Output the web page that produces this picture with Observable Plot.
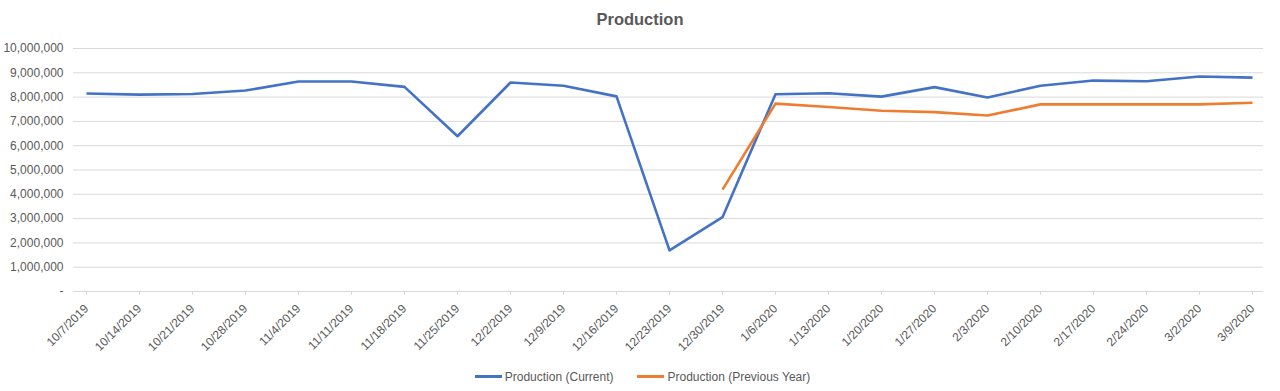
<!DOCTYPE html>
<html>
<head>
<meta charset="utf-8">
<script src="https://cdn.jsdelivr.net/npm/d3@7"></script>
<script src="https://cdn.jsdelivr.net/npm/@observablehq/plot@0.6"></script>
<style>
  html, body { margin: 0; padding: 0; background: #fff; }
  body { width: 1280px; height: 391px; overflow: hidden; font-family: "Liberation Sans", Arial, sans-serif; }
  #title { height: 38px; line-height: 38px; text-align: center; font-size: 16.5px; font-weight: bold; color: #595959; }
  #legend { height: 29px; display: flex; justify-content: center; align-items: center; gap: 24px; font-size: 12px; color: #595959; margin-left: 5px; }
  .item { display: flex; align-items: center; }
  .sw { width: 27px; height: 3px; margin-right: 3px; }
  svg { display: block; }
</style>
</head>
<body>
<div id="title">Production</div>
<div id="chart"></div>
<div id="legend"></div>
<script>
const dates = ["10/7/2019","10/14/2019","10/21/2019","10/28/2019","11/4/2019","11/11/2019","11/18/2019","11/25/2019","12/2/2019","12/9/2019","12/16/2019","12/23/2019","12/30/2019","1/6/2020","1/13/2020","1/20/2020","1/27/2020","2/3/2020","2/10/2020","2/17/2020","2/24/2020","3/2/2020","3/9/2020"];
const current = [8150000,8100000,8130000,8270000,8640000,8640000,8420000,6390000,8600000,8470000,8030000,1690000,3060000,8120000,8160000,8020000,8410000,7980000,8470000,8680000,8650000,8850000,8800000];
const previous = [null,null,null,null,null,null,null,null,null,null,null,null,4190000,7730000,7590000,7440000,7380000,7240000,7700000,7700000,7700000,7700000,7770000];
const yTicks = [0,1000000,2000000,3000000,4000000,5000000,6000000,7000000,8000000,9000000,10000000];
const seriesNames = ["Production (Current)", "Production (Previous Year)"];
const colors = ["#4472C4", "#ED7D31"];

const rows = [];
dates.forEach((d, i) => {
  rows.push({date: d, value: current[i], series: seriesNames[0]});
  if (previous[i] != null) rows.push({date: d, value: previous[i], series: seriesNames[1]});
});

const fmt = d3.format(",");
const chart = Plot.plot({
  width: 1280,
  height: 324,
  marginLeft: 73,
  marginRight: 17,
  marginTop: 10,
  marginBottom: 71,
  style: { fontFamily: "Liberation Sans, Arial, sans-serif", fontSize: "12px", color: "#595959" },
  x: { type: "point", domain: dates, range: [77, 1261], padding: 0, label: null },
  y: { domain: [0, 10000000], label: null },
  color: { domain: seriesNames, range: colors },
  marks: [
    Plot.ruleY(yTicks, { stroke: "#d9d9d9", strokeWidth: 1 }),
    Plot.axisY(yTicks, { tickSize: 0, tickPadding: 10, tickFormat: d => d === 0 ? "-" : fmt(d), fill: "#595959", label: null }),
    Plot.axisX({ tickSize: 4, stroke: "#d9d9d9", fill: "#595959", tickRotate: -45, tickPadding: 11, label: null }),
    Plot.line(rows, { x: "date", y: "value", z: "series", stroke: "series", strokeWidth: 2.6, strokeLinecap: "butt" })
  ]
});
document.getElementById("chart").appendChild(chart);

const legend = document.getElementById("legend");
seriesNames.forEach((n, i) => {
  const it = document.createElement("div");
  it.className = "item";
  it.innerHTML = `<span class="sw" style="background:${colors[i]}"></span><span>${n}</span>`;
  legend.appendChild(it);
});
</script>
</body>
</html>
